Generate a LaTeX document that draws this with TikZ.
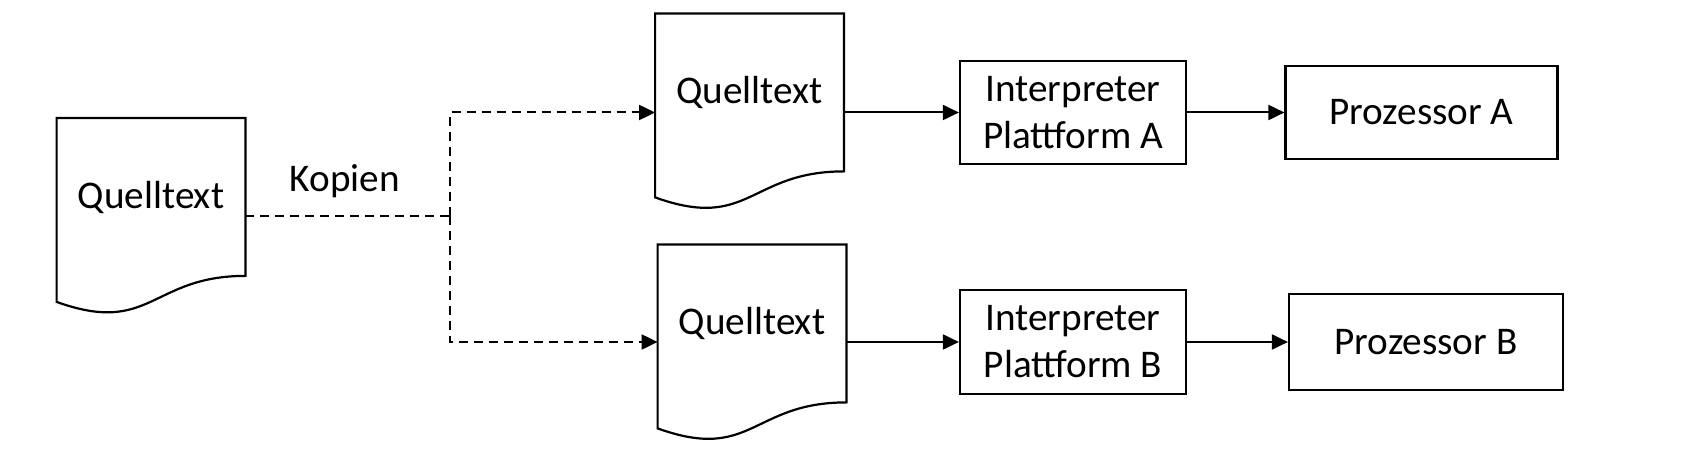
\documentclass[tikz,border=0pt]{standalone}
\usepackage{fontspec}
\setmainfont{Carlito}
\usetikzlibrary{arrows.meta,calc}
\tikzset{
  srcdoc/.style={draw=none,minimum width=94bp,minimum height=78.5bp,inner sep=0pt},
  procbox/.style={draw,line width=1.1bp,align=center,inner sep=0pt},
  copyline/.style={line width=1bp,dash pattern=on 4.5bp off 3bp},
  flowline/.style={line width=1bp},
}
\begin{document}
\begin{tikzpicture}[>={Triangle[length=8bp,width=7.5bp]},line join=miter,font=\fontsize{19.6bp}{23.5bp}\selectfont]
\useasboundingbox (0bp,0bp) rectangle (843bp,237bp);
%%
\node (srcL) at (75.5bp,138.5bp) [srcdoc] {Quelltext};
  \node (srcA) at (374.75bp,190.75bp) [srcdoc] {Quelltext};
  \node (srcB) at (376.0bp,75.25bp) [srcdoc] {Quelltext};
  \node (intA) at (536.5bp,180.75bp) [procbox,minimum width=113bp,minimum height=51.5bp] {Interpreter\\Plattform A};
  \node (intB) at (536.5bp,66.0bp) [procbox,minimum width=113bp,minimum height=52bp] {Interpreter\\Plattform B};
  \node (procA) at (710.75bp,180.75bp) [procbox,minimum width=136bp,minimum height=46.5bp] {Prozessor A};
  \node (procB) at (713.0bp,66.0bp) [procbox,minimum width=137bp,minimum height=48bp] {Prozessor B};
  \node (copyLabel) at (172.5bp,141.0bp) [anchor=base] {Kopien};
  \coordinate (split) at (225.0bp,129.0bp);
%
\foreach \n in {srcL,srcA,srcB}
  \draw [line width=1.1bp] (\n.south east) -- (\n.north east) -- (\n.north west) -- ($(\n.south west)+(0bp,-13bp)$)
    .. controls ($(\n.south)+(0bp,-30bp)$) and (\n.south) .. cycle;
%
  \draw [copyline] (srcL.east |- split) -- (split);
  \draw [copyline,->] (split) |- (srcA.west |- intA);
  \draw [copyline,->] (split) |- (srcB.west |- intB);
  \draw [flowline,->] (srcA.east |- intA) -- (intA);
  \draw [flowline,->] (srcB.east |- intB) -- (intB);
  \draw [flowline,->] (intA) -- (procA);
  \draw [flowline,->] (intB) -- (procB);
%
\end{tikzpicture}
\end{document}
